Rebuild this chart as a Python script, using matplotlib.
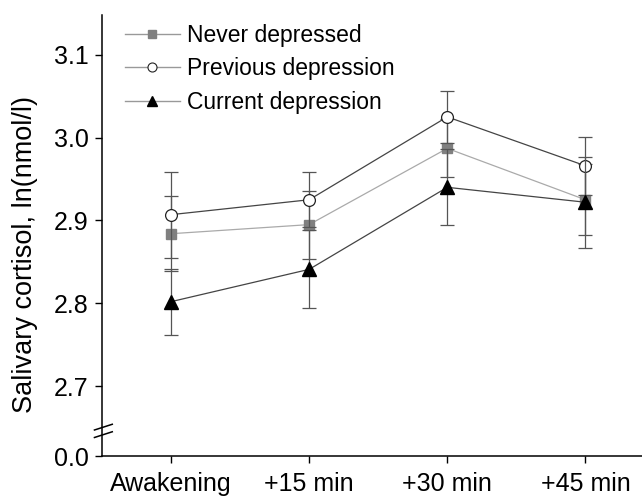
import matplotlib
matplotlib.use("Agg")
import matplotlib.pyplot as plt
from matplotlib.lines import Line2D

plt.rcParams['font.family'] = ['Liberation Sans', 'DejaVu Sans']

timepoints = ["Awakening", "+15 min", "+30 min", "+45 min"]
never_mean = [2.884, 2.895, 2.987, 2.925]
never_se = [0.045, 0.041, 0.035, 0.043]
prev_mean = [2.907, 2.925, 3.025, 2.966]
prev_se = [0.052, 0.033, 0.031, 0.035]
curr_mean = [2.802, 2.841, 2.940, 2.922]
curr_se = [0.040, 0.047, 0.046, 0.055]

ytick_vals = [2.6157, 2.7, 2.8, 2.9, 3.0, 3.1]
ytick_labels = ["0.0", "2.7", "2.8", "2.9", "3.0", "3.1"]

fig = plt.figure(figsize=(6.42, 4.96), dpi=100)
ax = fig.add_axes([0.1589, 0.0806, 0.8411, 0.8892])

x = list(range(len(timepoints)))
err_kw = dict(ecolor="#555555", elinewidth=0.9, capsize=5, capthick=0.9)

ax.errorbar(x, never_mean, yerr=never_se, color="#aaaaaa", lw=0.9,
            marker="s", ms=7, mfc="#808080", mec="#808080", zorder=3, **err_kw)
ax.errorbar(x, prev_mean, yerr=prev_se, color="#444444", lw=0.9,
            marker="o", ms=8.5, mfc="white", mec="#222222", mew=0.9,
            zorder=4, **err_kw)
ax.errorbar(x, curr_mean, yerr=curr_se, color="#444444", lw=0.9,
            marker="^", ms=9.5, mfc="black", mec="black", zorder=5, **err_kw)

ax.set_xlim(-0.5, 3.41)
ax.set_ylim(2.6157, 3.148)
ax.set_xticks(x)
ax.set_xticklabels(timepoints, fontsize=18)
ax.set_yticks(ytick_vals)
ax.set_yticklabels(ytick_labels, fontsize=18)
ax.tick_params(direction="out", length=5, width=1)
ax.tick_params(axis="x", pad=6.5)
ax.tick_params(axis="y", pad=4.5)
for s in ["top", "right"]:
    ax.spines[s].set_visible(False)
for s in ["left", "bottom"]:
    ax.spines[s].set_linewidth(1.1)

ax.set_ylabel("Salivary cortisol, ln(nmol/l)", fontsize=19.5)
ax.yaxis.set_label_coords(-0.1185, 0.456)

# axis break marks
for dy in [0.0, 0.017]:
    ax.plot([-0.014, 0.019], [0.042 + dy, 0.055 + dy], transform=ax.transAxes,
            color="black", lw=1.1, clip_on=False, zorder=6)

handles = [
    Line2D([], [], color="#999999", lw=1, marker="s", ms=6, mfc="#808080", mec="#808080"),
    Line2D([], [], color="#999999", lw=1, marker="o", ms=6.5, mfc="white", mec="#222222", mew=0.8),
    Line2D([], [], color="#999999", lw=1, marker="^", ms=7, mfc="black", mec="black"),
]
labels = ["Never depressed", "Previous depression", "Current depression"]
ax.legend(handles, labels, loc="upper left", bbox_to_anchor=(0.025, 1.0),
          frameon=False, fontsize=16.5, handlelength=2.4, handletextpad=0.3,
          labelspacing=0.45, borderaxespad=0)

fig.savefig("out.png", dpi=100)
